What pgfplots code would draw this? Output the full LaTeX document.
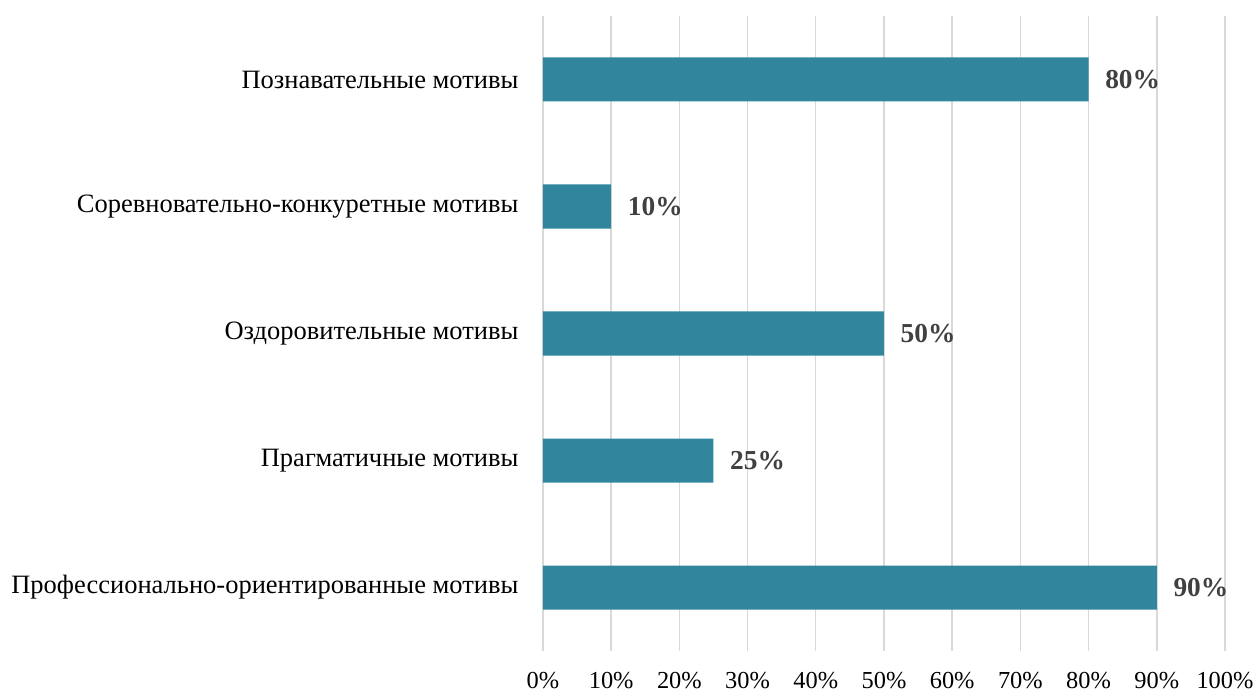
\documentclass[border=0pt]{standalone}
\usepackage{pgfplots}
\pgfplotsset{compat=1.18}
\usepackage{fontspec}
\setmainfont{Liberation Serif}
\definecolor{barc}{HTML}{31859C}
\definecolor{gridc}{HTML}{D9D9D9}
\definecolor{lblc}{HTML}{404040}
\begin{document}
\fontsize{24.5}{28}\selectfont
\begin{tikzpicture}
\useasboundingbox (-543bp,-44bp) rectangle (715bp,651bp);
\begin{axis}[
  at={(0,0)}, anchor=south west,
  scale only axis,
  width=682bp, height=635bp,
  xbar,
  bar width=44bp,
  xmin=0, xmax=100,
  ymin=-0.5, ymax=4.5,
  axis line style={draw=none},
  tick style={draw=none},
  xmajorgrids,
  grid style={gridc, line width=1.4bp},
  xtick={0,10,...,100},
  xticklabel={\pgfmathprintnumber{\tick}\%},
  ytick={0,1,2,3,4},
  yticklabels={Профессионально-ориентированные мотивы, Прагматичные мотивы, Оздоровительные мотивы, Соревновательно-конкуретные мотивы, Познавательные мотивы},
  /pgf/number format/assume math mode=true,
  xticklabel style={font=\fontsize{24.5}{28}\selectfont, yshift=-13bp},
  yticklabel style={font=\fontsize{26.6}{30}\selectfont, xshift=-12bp},
  point meta=explicit,
  nodes near coords={\pgfmathprintnumber{\pgfplotspointmeta}\%},
  nodes near coords style={font=\fontsize{27.5}{31}\selectfont\bfseries, text=lblc, inner sep=0pt, xshift=16.5bp, anchor=west},
]
\addplot[fill=barc, draw=none] coordinates {
  (90,0) [90]
  (25,1) [25]
  (50,2) [50]
  (10,3) [10]
  (80,4) [80]
};
\end{axis}
\end{tikzpicture}
\end{document}
